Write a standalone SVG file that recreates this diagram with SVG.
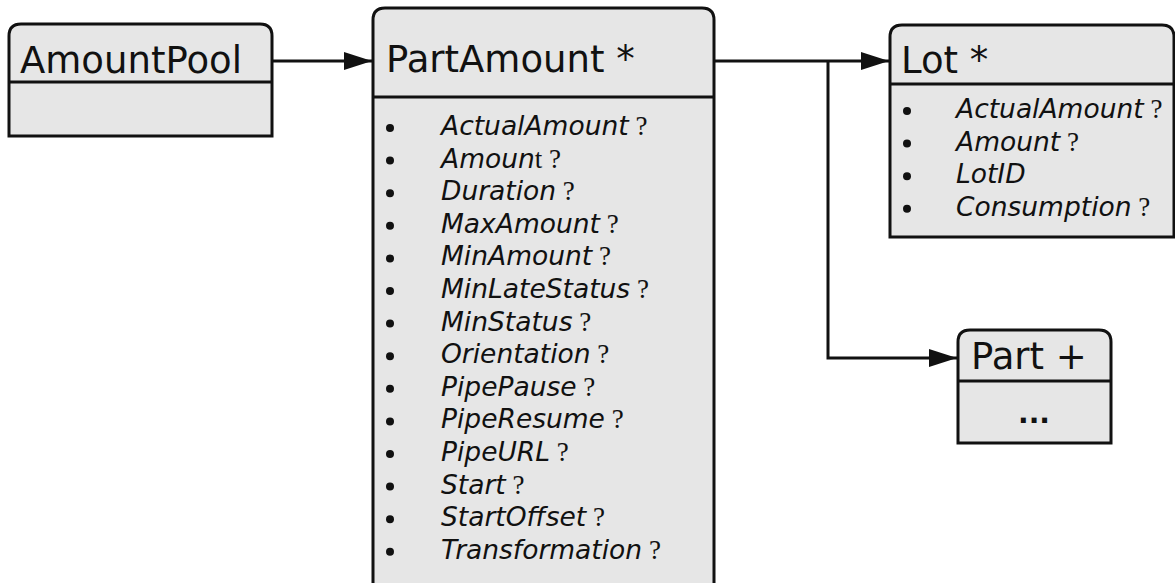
<svg xmlns="http://www.w3.org/2000/svg" width="1175" height="583" viewBox="0 0 1175 583">
<style>
.box{fill:#e6e6e6;stroke:#111;stroke-width:3}
.ln{fill:none;stroke:#111;stroke-width:3}
.t{font-family:"DejaVu Sans",Verdana,sans-serif;font-size:37px;fill:#111}
.i{font-family:"DejaVu Sans",Verdana,sans-serif;font-size:26.5px;font-style:italic;fill:#111}
.q{font-family:"Liberation Serif","Times New Roman",serif;font-size:27px;font-style:normal}
.b{fill:#111}
.c{fill:none;stroke:#111;stroke-width:3}
</style>
<defs>
<marker id="arr" markerUnits="userSpaceOnUse" markerWidth="30" markerHeight="20" refX="28" refY="10" orient="auto">
<path d="M0,1 L28,10 L0,19 Z" fill="#111"/>
</marker>
</defs>
<g id="connectors">
<path class="c" d="M272,61 H372" marker-end="url(#arr)"/>
<path class="c" d="M714,61 H889" marker-end="url(#arr)"/>
<path class="c" d="M828,61 V358 H957" marker-end="url(#arr)"/>
</g>
<g id="AmountPool">
<path class="box" d="M9,136 V36 Q9,24 21,24 H260 Q272,24 272,36 V136 Z"/>
<path class="ln" d="M9,82 H272"/>
<text class="t" x="20" y="73">AmountPool</text>
</g>
<g id="PartAmount">
<path class="box" d="M373,590 V20 Q373,8 385,8 H702 Q714,8 714,20 V590"/>
<path class="ln" d="M373,97 H714"/>
<text class="t" x="386" y="72">PartAmount *</text>
<g class="b">
<circle cx="390" cy="128" r="4"/>
<circle cx="390" cy="160.6" r="4"/>
<circle cx="390" cy="193.2" r="4"/>
<circle cx="390" cy="225.8" r="4"/>
<circle cx="390" cy="258.4" r="4"/>
<circle cx="390" cy="291" r="4"/>
<circle cx="390" cy="323.6" r="4"/>
<circle cx="390" cy="356.2" r="4"/>
<circle cx="390" cy="388.8" r="4"/>
<circle cx="390" cy="421.4" r="4"/>
<circle cx="390" cy="454" r="4"/>
<circle cx="390" cy="486.6" r="4"/>
<circle cx="390" cy="519.2" r="4"/>
<circle cx="390" cy="551.8" r="4"/>
</g>
<text class="i" x="441" y="135">ActualAmount<tspan class="q"> ?</tspan></text>
<text class="i" x="441" y="167.6">Amoun<tspan class="q">t ?</tspan></text>
<text class="i" x="441" y="200.2">Duration<tspan class="q"> ?</tspan></text>
<text class="i" x="441" y="232.8">MaxAmount<tspan class="q"> ?</tspan></text>
<text class="i" x="441" y="265.4">MinAmount<tspan class="q"> ?</tspan></text>
<text class="i" x="441" y="298">MinLateStatus<tspan class="q"> ?</tspan></text>
<text class="i" x="441" y="330.6">MinStatus<tspan class="q"> ?</tspan></text>
<text class="i" x="441" y="363.2">Orientation<tspan class="q"> ?</tspan></text>
<text class="i" x="441" y="395.8">PipePause<tspan class="q"> ?</tspan></text>
<text class="i" x="441" y="428.4">PipeResume<tspan class="q"> ?</tspan></text>
<text class="i" x="441" y="461">PipeURL<tspan class="q"> ?</tspan></text>
<text class="i" x="441" y="493.6">Start<tspan class="q"> ?</tspan></text>
<text class="i" x="441" y="526.2">StartOffset<tspan class="q"> ?</tspan></text>
<text class="i" x="441" y="558.8">Transformation<tspan class="q"> ?</tspan></text>
</g>
<g id="Lot">
<path class="box" d="M890,237 V37 Q890,25 902,25 H1162 Q1174,25 1174,37 V237 Z"/>
<path class="ln" d="M890,84 H1174"/>
<text class="t" x="901" y="73">Lot *</text>
<g class="b">
<circle cx="907" cy="111" r="4"/>
<circle cx="907" cy="143.6" r="4"/>
<circle cx="907" cy="176.2" r="4"/>
<circle cx="907" cy="208.8" r="4"/>
</g>
<text class="i" x="956" y="118">ActualAmount<tspan class="q"> ?</tspan></text>
<text class="i" x="956" y="150.6">Amount<tspan class="q"> ?</tspan></text>
<text class="i" x="956" y="183.2">LotID</text>
<text class="i" x="956" y="215.8">Consumption<tspan class="q"> ?</tspan></text>
</g>
<g id="Part">
<path class="box" d="M958,443 V342 Q958,330 970,330 H1099 Q1111,330 1111,342 V443 Z"/>
<path class="ln" d="M958,381 H1111"/>
<text class="t" x="971" y="369">Part +</text>
<text x="1034" y="423" text-anchor="middle" style="font-family:'DejaVu Sans',sans-serif;font-size:28px;font-weight:bold;fill:#111">...</text>
</g>
</svg>
